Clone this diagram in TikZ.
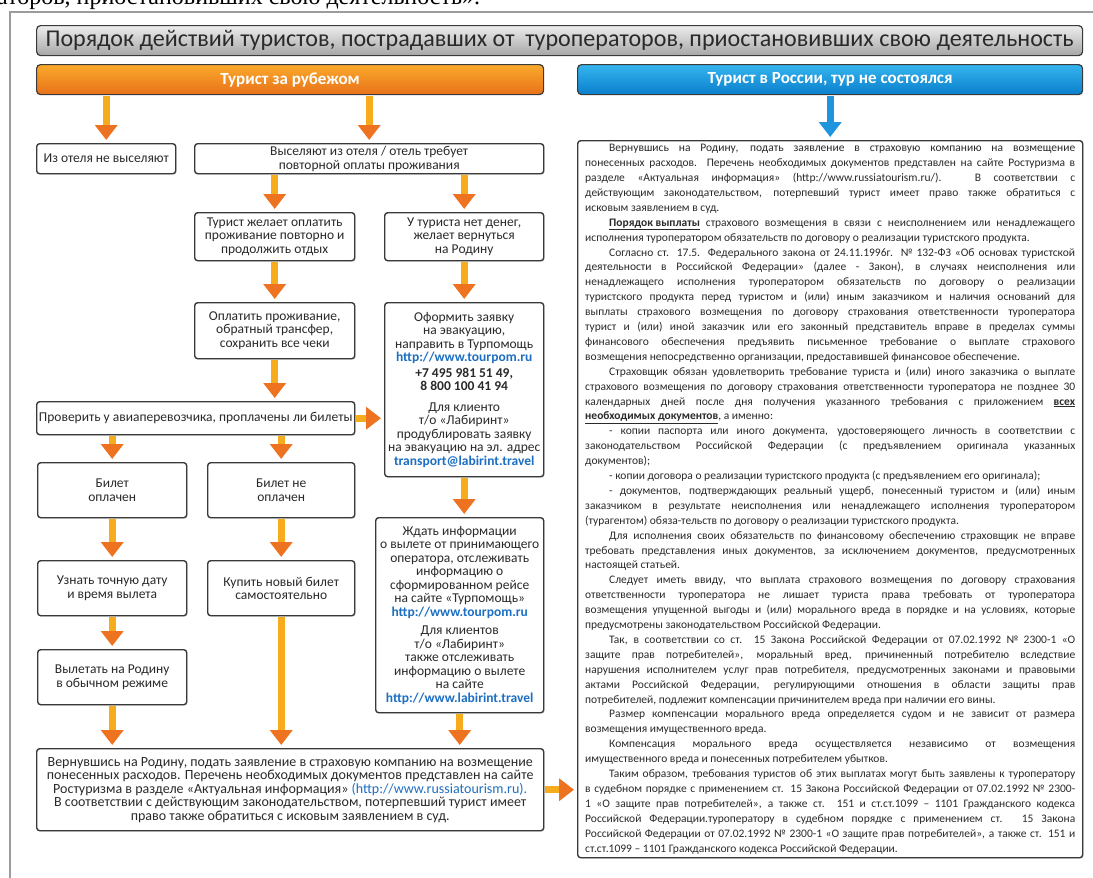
\documentclass[tikz,border=0pt]{standalone}
\usepackage{graphicx}
\usepackage{fontspec}
\setmainfont{Carlito}
\newfontfamily\pageserif{Liberation Serif}
\usetikzlibrary{shadows, arrows.meta}

\definecolor{txtgray}{HTML}{2A2A2A}
\definecolor{boxline}{HTML}{3A3A3A}
\definecolor{linkblue}{HTML}{1C6FC2}
\definecolor{pageframe}{HTML}{9C9C9C}
\definecolor{arroworange}{HTML}{EE7321}
\definecolor{arrowyellow}{HTML}{F6AC1D}
\definecolor{arrowblue}{HTML}{1E95DC}
\definecolor{orangetop}{HTML}{FAAA2A}
\definecolor{orangebot}{HTML}{E8711B}
\definecolor{bluetop}{HTML}{35B4EE}
\definecolor{bluebot}{HTML}{0A7FCC}

\tikzset{
  stepbox/.style={draw=boxline, line width=1.4pt, fill=white, rounded corners=3pt,
    align=center, inner sep=0pt, anchor=north west, text=txtgray,
    font=\fontsize{13.5}{13.5}\selectfont,
    drop shadow={shadow xshift=1pt, shadow yshift=-1pt, opacity=0.25}},
  headbar/.style={draw=boxline, line width=1.2pt, rounded corners=4pt, anchor=north west,
    inner sep=0pt, text=white, font=\bfseries\fontsize{17}{17}\selectfont,
    minimum height=30pt},
  fatarrow/.style={draw=arrowyellow, line width=7pt, shorten <=1pt, shorten >=3pt,
    -{Triangle[width=22pt, length=15pt, color=arroworange]}},
  bluearrow/.style={draw=arrowblue, line width=7pt, shorten <=1pt, shorten >=3pt,
    -{Triangle[width=22pt, length=15pt]}}
}
\newcommand{\pindent}{\par\hspace*{24pt}}
\newcommand{\weblink}[1]{{\color{linkblue}\bfseries #1}}

\begin{document}
\begin{tikzpicture}[x=1pt, y=-1pt]
\useasboundingbox (0,0) rectangle (1093,878);
\clip (0,0) rectangle (1093,878);

% line left over from the page above
\node[anchor=base west, inner sep=0pt, font=\pageserif\fontsize{24}{24}\selectfont] (prevline) at (-3,5)
{аторов, приостановивших свою деятельность».};
\draw[pageframe, line width=1.2pt] (1093,12) -- (10,12) -- (10,878);

% title and the two headers
\node[headbar, top color=black!7, bottom color=black!35, text=txtgray, font=\fontsize{22}{22}\selectfont,
  minimum width=1046pt] (title) at (36,25)
{\resizebox{1028pt}{!}{Порядок действий туристов, пострадавших от~ туроператоров, приостановивших свою деятельность}};
\node[headbar, top color=orangetop, bottom color=orangebot, minimum width=507pt] (abroad) at (36,64)
{Турист за рубежом};
\node[headbar, top color=bluetop, bottom color=bluebot, minimum width=505pt] (russia) at (577,64)
{Турист в России, тур не состоялся};

% abroad
\node[stepbox, minimum width=139pt, minimum height=30pt] (stay) at (36,143) {Из отеля не выселяют};
\node[stepbox, minimum width=349pt, minimum height=30pt] (evict) at (194,143)
{Выселяют из отеля / отель требует\\повторной оплаты проживания};
\node[stepbox, minimum width=160pt, minimum height=48pt] (paymore) at (194,212)
{Турист желает оплатить\\проживание повторно и\\продолжить отдых};
\node[stepbox, minimum width=159pt, minimum height=48pt] (nomoney) at (384,212)
{У туриста нет денег,\\желает вернуться\\на Родину};
\node[stepbox, minimum width=160pt, minimum height=56pt] (payall) at (194,302)
{Оплатить проживание,\\обратный трансфер,\\сохранить все чеки};
\node[stepbox, minimum width=159pt, minimum height=174pt] (apply) at (384,302)
{Оформить заявку\\на эвакуацию,\\направить в Турпомощь\\\weblink{http://www.tourpom.ru}\\[2pt]
\textbf{+7 495 981 51 49,}\\\textbf{8 800 100 41 94}\\[7pt]
Для клиенто\\т/о «Лабиринт»\\продублировать заявку\\на эвакуацию на эл. адрес\\\weblink{transport@labirint.travel}};
\node[stepbox, minimum width=318pt, minimum height=33pt] (check) at (36,401)
{Проверить у авиаперевозчика, проплачены ли билеты};
\node[stepbox, minimum width=149pt, minimum height=55pt] (paid) at (37,462) {Билет\\оплачен};
\node[stepbox, minimum width=147pt, minimum height=55pt] (unpaid) at (207,462) {Билет не\\оплачен};
\node[stepbox, minimum width=149pt, minimum height=55pt] (date) at (37,560)
{Узнать точную дату\\и время вылета};
\node[stepbox, minimum width=147pt, minimum height=55pt] (buy) at (207,560)
{Купить новый билет\\самостоятельно};
\node[stepbox, minimum width=168pt, minimum height=195pt] (wait) at (375,517)
{Ждать информации\\о вылете от принимающего\\оператора, отслеживать\\информацию о\\сформированном рейсе\\на сайте «Турпомощь»\\
\weblink{http://www.tourpom.ru}\\[5pt]
Для клиентов\\т/о «Лабиринт»\\также отслеживать\\информацию о вылете\\на сайте\\\weblink{http://www.labirint.travel}};
\node[stepbox, minimum width=149pt, minimum height=55pt] (fly) at (37,649)
{Вылетать на Родину\\в обычном режиме};
\node[stepbox, minimum width=507pt, minimum height=82pt, font=\fontsize{14}{13.5}\selectfont] (home) at (36,748)
{Вернувшись на Родину, подать заявление в страховую компанию на возмещение\\
понесенных расходов. Перечень необходимых документов представлен на сайте\\
Ростуризма в разделе «Актуальная информация» {\color{linkblue}(http://www.russiatourism.ru).}\\
В соответствии с действующим законодательством, потерпевший турист имеет\\
право также обратиться с исковым заявлением в суд.};

% russia
\node[stepbox, minimum width=505pt, minimum height=717pt, text width=490pt, align=justify,
  font=\fontsize{11.5}{14.9}\selectfont] (claims) at (577,140)
{\tolerance=10000\hspace*{24pt}Вернувшись на Родину, подать заявление в страховую компанию на возмещение\linebreak
понесенных расходов. Перечень необходимых документов представлен на сайте Ростуризма в\linebreak
разделе «Актуальная информация» (http://www.russiatourism.ru/). В соответствии с\linebreak
действующим законодательством, потерпевший турист имеет право также обратиться с\linebreak
исковым заявлением в суд.
\pindent \underline{\textbf{Порядок выплаты}} страхового возмещения в связи с неисполнением или ненадлежащего\linebreak
исполнения туроператором обязательств по договору о реализации туристского продукта.
\pindent Согласно ст. 17.5. Федерального закона от 24.11.1996г. № 132-ФЗ «Об основах туристской\linebreak
деятельности в Российской Федерации» (далее - Закон), в случаях неисполнения или\linebreak
ненадлежащего исполнения туроператором обязательств по договору о реализации\linebreak
туристского продукта перед туристом и (или) иным заказчиком и наличия оснований для\linebreak
выплаты страхового возмещения по договору страхования ответственности туроператора\linebreak
турист и (или) иной заказчик или его законный представитель вправе в пределах суммы\linebreak
финансового обеспечения предъявить письменное требование о выплате страхового\linebreak
возмещения непосредственно организации, предоставившей финансовое обеспечение.
\pindent Страховщик обязан удовлетворить требование туриста и (или) иного заказчика о выплате\linebreak
страхового возмещения по договору страхования ответственности туроператора не позднее 30\linebreak
календарных дней после дня получения указанного требования с приложением \underline{\textbf{всех}}\linebreak
\underline{\textbf{необходимых документов}}, а именно:
\pindent - копии паспорта или иного документа, удостоверяющего личность в соответствии с\linebreak
законодательством Российской Федерации (с предъявлением оригинала указанных\linebreak
документов);
\pindent - копии договора о реализации туристского продукта (с предъявлением его оригинала);
\pindent - документов, подтверждающих реальный ущерб, понесенный туристом и (или) иным\linebreak
заказчиком в результате неисполнения или ненадлежащего исполнения туроператором\linebreak
(турагентом) обяза-тельств по договору о реализации туристского продукта.
\pindent Для исполнения своих обязательств по финансовому обеспечению страховщик не вправе\linebreak
требовать представления иных документов, за исключением документов, предусмотренных\linebreak
настоящей статьей.
\pindent Следует иметь ввиду, что выплата страхового возмещения по договору страхования\linebreak
ответственности туроператора не лишает туриста права требовать от туроператора\linebreak
возмещения упущенной выгоды и (или) морального вреда в порядке и на условиях, которые\linebreak
предусмотрены законодательством Российской Федерации.
\pindent Так, в соответствии со ст. 15 Закона Российской Федерации от 07.02.1992 № 2300-1 «О\linebreak
защите прав потребителей», моральный вред, причиненный потребителю вследствие\linebreak
нарушения исполнителем услуг прав потребителя, предусмотренных законами и правовыми\linebreak
актами Российской Федерации, регулирующими отношения в области защиты прав\linebreak
потребителей, подлежит компенсации причинителем вреда при наличии его вины.
\pindent Размер компенсации морального вреда определяется судом и не зависит от размера\linebreak
возмещения имущественного вреда.
\pindent Компенсация морального вреда осуществляется независимо от возмещения\linebreak
имущественного вреда и понесенных потребителем убытков.
\pindent Таким образом, требования туристов об этих выплатах могут быть заявлены к туроператору\linebreak
в судебном порядке с применением ст. 15 Закона Российской Федерации от 07.02.1992 № 2300-\linebreak
1 «О защите прав потребителей», а также ст. 151 и ст.ст.1099 – 1101 Гражданского кодекса\linebreak
Российской Федерации.туроператору в судебном порядке с применением ст. 15 Закона\linebreak
Российской Федерации от 07.02.1992 № 2300-1 «О защите прав потребителей», а также ст. 151 и\linebreak
ст.ст.1099 – 1101 Гражданского кодекса Российской Федерации.};

% arrows
\draw[fatarrow] (abroad.south -| stay) -- (stay.north);
\draw[fatarrow] (abroad.south -| evict) -- (evict.north);
\draw[fatarrow] (evict.south -| paymore) -- (paymore.north);
\draw[fatarrow] (evict.south -| nomoney) -- (nomoney.north);
\draw[fatarrow] (paymore) -- (payall);
\draw[fatarrow] (nomoney) -- (apply);
\draw[fatarrow] (payall.south) -- (payall.south |- check.north);
\draw[fatarrow] (check.east) -- (check.east -| apply.west);
\draw[fatarrow] (check.south -| paid) -- (paid.north);
\draw[fatarrow] (check.south -| unpaid) -- (unpaid.north);
\draw[fatarrow] (paid) -- (date);
\draw[fatarrow] (unpaid) -- (buy);
\draw[fatarrow] (apply.south) -- (apply.south |- wait.north);
\draw[fatarrow] (date) -- (fly);
\draw[fatarrow] (fly.south) -- (fly.south |- home.north);
\draw[fatarrow] (buy.south) -- (buy.south |- home.north);
\draw[fatarrow] (wait.south) -- (wait.south |- home.north);
\draw[fatarrow] (home.east) -- (home.east -| claims.west);
\draw[bluearrow] (russia.south -| claims) -- (claims.north);

\end{tikzpicture}
\end{document}
